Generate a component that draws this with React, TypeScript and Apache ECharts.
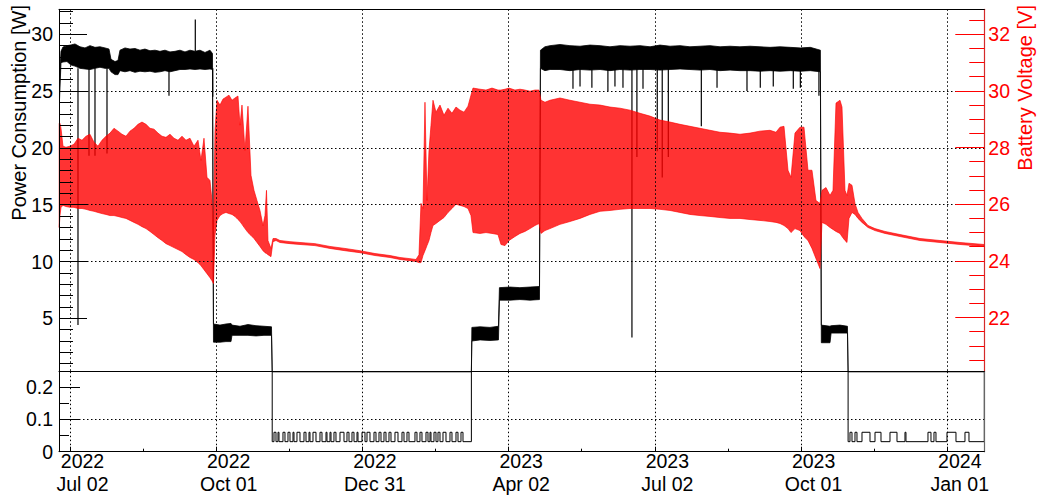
import React, { useEffect, useRef } from 'react';
import * as echarts from 'echarts';

const FONT = 'Liberation Sans, Arial, Helvetica, sans-serif';

// ---- time axis: values are days since 2022-07-02 ----
const xMin = -6.86;
const xMax = 570.6;
const dateTicks = [0, 91.25, 182.5, 273.75, 365, 456.25, 547.5];
const dateLabels = ['2022\nJul 02', '2022\nOct 01', '2022\nDec 31', '2023\nApr 02', '2023\nJul 02', '2023\nOct 01', '2024\nJan 01'];
const dateMinorTicks = [45.625, 136.875, 228.125, 319.375, 410.625, 501.875];

// ---- axes ----
const powerTopRange = [0.3, 32.2];
const powerTopMajor = [5, 10, 15, 20, 25, 30];
const powerTopMinor = [1, 2, 3, 4, 6, 7, 8, 9, 11, 12, 13, 14, 16, 17, 18, 19, 21, 22, 23, 24, 26, 27, 28, 29, 31, 32];
const powerLowRange = [0, 0.247];
const powerLowMajor = [0, 0.1, 0.2];
const powerLowMinor = [0.05, 0.15];
const voltRange = [20.09, 32.88];
const voltMajor = [22, 24, 26, 28, 30, 32];
const voltMinor = [20.5, 21, 21.5, 22.5, 23, 23.5, 24.5, 25, 25.5, 26.5, 27, 27.5, 28.5, 29, 29.5, 30.5, 31, 31.5, 32.5];

// ---- power consumption (upper range) envelope [W] ----
const powerDays = [-6.55, -5.62, -4.37, -1.87, 0.62, 3.12, 6.24, 9.36, 12.48, 15.6, 18.72, 21.84, 24.34, 25.59, 28.08, 29.96, 31.2, 34.32, 37.44, 40.56, 43.68, 46.8, 49.93, 53.05, 56.17, 59.29, 62.41, 65.53, 68.65, 71.77, 74.89, 78.01, 81.13, 84.25, 87.37, 88.93, 89.55, 93.61, 97.35, 100.48, 101.1, 106.09, 111.08, 116.08, 121.07, 125.75, 126.2, 250.5, 250.8, 255.9, 262.1, 267.4, 268.0, 274.6, 280.8, 287.1, 293.0, 293.6, 296.4, 299.6, 305.8, 312.0, 318.3, 324.5, 330.8, 337.0, 343.2, 349.5, 355.7, 362.0, 368.2, 374.5, 380.7, 386.9, 393.2, 399.4, 405.7, 411.9, 418.1, 424.4, 430.6, 436.9, 443.1, 449.5, 455.8, 462.0, 468.3, 468.9, 474.3, 475.0, 480.5, 485.2, 485.6, 570.6];
const powerLow = [24.2, 27.5, 27.56, 27.6, 27.3, 27.2, 27.0, 26.95, 26.9, 27.0, 27.1, 27.0, 27.0, 26.7, 26.45, 26.45, 26.8, 26.7, 26.8, 26.65, 26.75, 26.7, 26.75, 26.65, 26.7, 26.8, 26.7, 26.8, 26.9, 26.9, 26.95, 26.9, 26.95, 26.9, 26.95, 26.9, 2.9, 2.9, 2.95, 2.95, 3.5, 3.5, 3.5, 3.45, 3.5, 3.5, -1, -1, 3.0, 3.1, 3.05, 3.1, 6.6, 6.6, 6.65, 6.6, 6.65, 27.0, 26.8, 26.9, 26.9, 26.8, 26.9, 26.85, 26.9, 26.8, 26.9, 26.85, 26.9, 26.9, 26.85, 26.9, 26.95, 26.9, 26.85, 26.9, 26.8, 26.85, 26.8, 26.8, 26.75, 26.8, 26.75, 26.8, 26.75, 26.8, 26.7, 2.85, 2.85, 3.7, 3.7, 3.7, -1, -1];
const powerHigh = [26.0, 28.5, 28.88, 29.0, 29.06, 29.15, 28.9, 28.8, 29.0, 28.85, 28.9, 28.8, 28.7, 27.8, 27.6, 27.7, 28.6, 28.8, 28.7, 28.75, 28.6, 28.7, 28.55, 28.6, 28.5, 28.6, 28.45, 28.5, 28.6, 28.45, 28.6, 28.5, 28.6, 28.4, 28.6, 28.3, 4.5, 4.4, 4.5, 4.55, 4.4, 4.3, 4.45, 4.35, 4.3, 4.25, -1, -1, 4.2, 4.25, 4.2, 4.3, 7.7, 7.75, 7.7, 7.75, 7.8, 28.6, 28.9, 29.0, 29.1, 29.0, 28.95, 29.05, 29.0, 28.9, 29.0, 28.95, 29.0, 28.9, 29.05, 28.95, 29.0, 28.9, 28.95, 29.0, 28.9, 28.95, 28.9, 28.95, 28.9, 28.85, 28.9, 28.85, 28.8, 28.85, 28.6, 4.4, 4.3, 4.35, 4.4, 4.3, -1, -1];

// ---- short power drops / peaks [day, from W, to W] ----
const spikeDays = [4.99, 11.86, 15.6, 23.09, 61.78, 78.2, 89.1, 313.9, 318.3, 325.7, 335.7, 340.1, 345.1, 350.7, 353.8, 357.6, 366.5, 369.6, 373.4, 394.0, 403.8, 422.5, 430.8, 438.9, 451.4, 455.8, 467.4];
const spikeFrom = [27, 27, 27, 27, 27, 28.5, 27, 27, 27, 27, 27, 27, 27, 27, 27, 27, 27, 27, 27, 27, 27, 27, 27, 27, 27, 27, 27];
const spikeTo = [4.4, 19.3, 19.3, 19.5, 24.6, 31.3, 24.5, 25.2, 25.4, 25.3, 25.0, 25.4, 25.3, 3.3, 19.2, 25.2, 19.7, 17.4, 19.2, 21.9, 25.3, 25.0, 25.3, 25.4, 25.2, 25.3, 24.6];

// ---- standby (lower range) ----
const standbyStart = [126.2, 485.6];
const standbyEnd = [250.5, 570.6];
const standbyBase = 0.031;
const standbyPulse = 0.06;
const pulseStart = [127.31, 129.81, 132.92, 136.05, 139.17, 141.66, 146.03, 149.15, 151.65, 156.02, 159.76, 162.26, 164.75, 168.5, 172.87, 175.99, 179.11, 182.23, 185.35, 189.72, 192.84, 195.96, 199.08, 202.82, 207.19, 210.31, 215.3, 218.42, 222.17, 224.67, 227.16, 229.66, 232.78, 237.15, 240.89, 244.01, 486.77, 489.9, 494.27, 502.39, 511.74, 521.1, 535.45, 539.19, 547.31, 558.54];
const pulseEnd = [128.56, 130.43, 134.17, 137.3, 139.79, 143.54, 147.28, 149.78, 153.52, 157.27, 160.39, 162.89, 166.0, 171.0, 174.12, 177.24, 179.73, 184.1, 187.22, 190.97, 194.09, 197.21, 200.33, 204.7, 208.44, 211.56, 216.55, 219.67, 223.42, 225.29, 228.41, 230.91, 234.65, 238.39, 242.14, 245.26, 488.03, 491.14, 499.26, 506.13, 516.11, 521.72, 537.32, 540.44, 552.92, 561.04];

// ---- battery voltage envelope [V] ----
const voltDays = [-6.74, -6.24, -5.62, -4.37, -2.5, 0, 2.5, 4.99, 7.49, 9.99, 12.48, 14.98, 17.47, 19.97, 22.47, 24.96, 27.46, 29.96, 32.45, 34.95, 37.44, 39.94, 42.44, 44.93, 47.43, 49.93, 52.42, 54.92, 57.41, 59.91, 62.41, 64.9, 67.4, 69.9, 72.39, 74.89, 77.38, 79.88, 81.75, 83.63, 85.5, 87.37, 88.62, 89.55, 90.49, 91.74, 93.61, 95.48, 97.35, 99.23, 101.1, 102.97, 104.84, 106.09, 107.34, 109.21, 111.08, 112.96, 114.83, 116.7, 118.57, 120.45, 121.69, 122.63, 123.57, 125.44, 126.69, 128.56, 131.05, 137.3, 143.54, 152.9, 162.26, 171.62, 180.98, 190.34, 199.7, 205.94, 212.18, 215.93, 217.8, 219.05, 220.3, 221.54, 222.79, 224.04, 225.29, 226.54, 228.41, 230.91, 233.4, 235.9, 238.39, 240.89, 243.39, 245.88, 248.38, 250.25, 251.5, 255.87, 259.61, 263.36, 267.1, 268.97, 271.47, 273.97, 277.71, 280.83, 283.95, 287.07, 290.19, 292.69, 293.94, 296.43, 299.55, 305.79, 312.04, 318.28, 324.52, 330.76, 337.0, 343.24, 349.48, 355.72, 361.96, 368.21, 374.45, 380.69, 386.93, 393.17, 399.41, 405.66, 411.89, 418.14, 424.38, 430.62, 436.85, 440.6, 443.1, 445.59, 448.09, 449.96, 452.45, 455.57, 458.07, 460.57, 463.06, 465.56, 468.06, 469.31, 471.81, 474.3, 476.17, 478.05, 480.54, 481.79, 483.66, 484.91, 486.16, 488.03, 489.9, 491.78, 494.27, 498.02, 502.39, 508.63, 517.99, 530.47, 542.94, 555.42, 570.39];
const voltLow = [25.18, 25.6, 25.89, 25.96, 25.92, 25.89, 25.89, 25.85, 25.85, 25.82, 25.78, 25.75, 25.71, 25.67, 25.64, 25.6, 25.6, 25.57, 25.53, 25.5, 25.43, 25.36, 25.29, 25.21, 25.14, 25.04, 24.93, 24.82, 24.72, 24.61, 24.54, 24.47, 24.4, 24.33, 24.22, 24.12, 24.05, 23.94, 23.83, 23.69, 23.55, 23.41, 23.3, 23.2, 24.9, 25.43, 25.6, 25.67, 25.71, 25.67, 25.64, 25.57, 25.46, 25.39, 25.29, 25.14, 25.0, 24.9, 24.79, 24.65, 24.51, 24.36, 24.29, 24.26, 24.22, 24.15, 24.68, 24.72, 24.65, 24.61, 24.58, 24.54, 24.44, 24.36, 24.29, 24.19, 24.12, 24.05, 24.01, 23.98, 23.94, 23.94, 24.19, 24.36, 24.54, 24.72, 25.0, 25.25, 25.32, 25.43, 25.53, 25.71, 25.85, 26.0, 25.96, 25.92, 25.85, 25.6, 25.0, 24.97, 25.0, 24.97, 24.93, 24.58, 24.54, 24.72, 24.86, 24.97, 25.04, 25.14, 25.25, 25.32, 24.97, 25.07, 25.14, 25.29, 25.39, 25.5, 25.64, 25.75, 25.78, 25.82, 25.85, 25.85, 25.85, 25.82, 25.78, 25.71, 25.64, 25.6, 25.57, 25.53, 25.5, 25.5, 25.46, 25.43, 25.39, 25.36, 25.32, 25.25, 25.14, 25.0, 25.14, 25.07, 24.86, 24.72, 24.44, 24.08, 23.73, 25.36, 25.29, 25.18, 25.11, 25.04, 24.97, 24.86, 24.72, 24.65, 25.5, 25.71, 25.64, 25.5, 25.36, 25.18, 25.07, 24.97, 24.86, 24.72, 24.65, 24.58, 24.51];
const voltHigh = [28.86, 28.86, 28.68, 28.05, 28.01, 28.05, 28.12, 28.33, 28.26, 28.4, 28.47, 28.19, 28.05, 28.26, 28.4, 28.51, 28.68, 28.58, 28.47, 28.4, 28.58, 28.68, 28.82, 28.9, 28.82, 28.68, 28.65, 28.51, 28.4, 28.36, 28.47, 28.33, 28.26, 28.4, 28.26, 28.33, 28.05, 28.26, 27.55, 28.33, 26.95, 26.84, 26.13, 25.07, 28.61, 29.67, 29.5, 29.71, 29.78, 29.85, 29.67, 29.75, 29.82, 28.79, 29.5, 27.9, 29.46, 27.02, 26.49, 26.13, 25.78, 25.25, 25.6, 26.49, 24.72, 24.44, 24.79, 24.79, 24.72, 24.68, 24.65, 24.61, 24.51, 24.44, 24.36, 24.26, 24.19, 24.12, 24.08, 24.05, 24.22, 26.03, 25.85, 29.6, 26.13, 27.9, 28.79, 29.67, 29.25, 29.5, 29.14, 29.39, 29.21, 29.43, 29.32, 29.25, 29.46, 29.85, 30.1, 30.06, 30.03, 30.1, 30.03, 30.03, 30.06, 30.1, 30.03, 30.06, 30.03, 29.99, 30.03, 30.03, 29.67, 29.6, 29.67, 29.75, 29.67, 29.6, 29.53, 29.5, 29.43, 29.39, 29.32, 29.21, 29.11, 28.97, 28.9, 28.82, 28.75, 28.68, 28.61, 28.54, 28.51, 28.47, 28.51, 28.58, 28.61, 28.54, 28.72, 28.75, 27.2, 26.95, 28.51, 28.72, 28.72, 27.2, 27.2, 26.13, 26.03, 26.49, 26.59, 26.31, 26.49, 29.57, 29.67, 29.43, 26.49, 26.31, 26.74, 26.67, 26.03, 25.71, 25.5, 25.25, 25.14, 25.04, 24.93, 24.79, 24.72, 24.65, 24.58];

const RED = 'rgba(255,0,0,0.8)';

function bandRenderer(days: number[], low: number[], high: number[], range: number[], color: string) {
  return (params: any, api: any) => {
    if (params.dataIndex !== 0) return null;
    const clamp = (v: number) => Math.max(range[0], Math.min(range[1], v));
    const pts: number[][] = [];
    for (let i = 0; i < days.length; i++) pts.push(api.coord([days[i], clamp(high[i])]));
    for (let i = days.length - 1; i >= 0; i--) pts.push(api.coord([days[i], clamp(low[i])]));
    return {
      type: 'polygon',
      shape: { points: pts },
      style: { fill: color, stroke: color, lineWidth: 0.8 },
    };
  };
}

function buildStandbyLine(): number[][] {
  const out: number[][] = [[xMin, 1]];
  for (let p = 0; p < standbyStart.length; p++) {
    const a = standbyStart[p];
    const b = standbyEnd[p];
    out.push([a, 1], [a, standbyBase]);
    for (let i = 0; i < pulseStart.length; i++) {
      if (pulseStart[i] > a && pulseEnd[i] < b) {
        out.push([pulseStart[i], standbyBase], [pulseStart[i], standbyPulse], [pulseEnd[i], standbyPulse], [pulseEnd[i], standbyBase]);
      }
    }
    out.push([b, standbyBase], [b, 1]);
  }
  out.push([xMax, 1]);
  return out;
}

const dotted = { color: '#000', width: 1, type: [1.5, 2.5] as any };

function dateLabel(v: number) {
  let best = 0;
  for (let i = 1; i < dateTicks.length; i++) if (Math.abs(dateTicks[i] - v) < Math.abs(dateTicks[best] - v)) best = i;
  return dateLabels[best];
}

export default function App() {
  const ref = useRef<HTMLDivElement>(null);
  useEffect(() => {
    if (!ref.current) return;
    const chart = echarts.init(ref.current, undefined, { renderer: 'svg' });
    const line = (color: string, width = 1) => ({ show: true, onZero: false, lineStyle: { color, width } });
    const noLine = { show: false, onZero: false };
    const option: any = {
      animation: false,
      backgroundColor: '#fff',
      textStyle: { fontFamily: FONT },
      grid: [
        { left: 59, right: 55.7, top: 9.3, height: 362.4 },
        { left: 59, right: 55.7, top: 371.7, height: 80 },
      ],
      xAxis: [
        {
          gridIndex: 0, type: 'value', position: 'top', min: xMin, max: xMax, z: 5,
          axisLine: line('#000'),
          axisTick: { show: false, customValues: dateTicks },
          axisLabel: { show: false, customValues: dateTicks },
          splitLine: { show: true, lineStyle: dotted },
        },
        {
          gridIndex: 1, type: 'value', position: 'bottom', min: xMin, max: xMax, z: 5,
          axisLine: line('#000'),
          axisTick: { show: true, inside: true, length: 5, customValues: dateTicks, lineStyle: { color: '#000' } },
          axisLabel: {
            show: true, customValues: dateTicks, formatter: dateLabel, fontSize: 19.5, lineHeight: 23,
            color: '#000', fontFamily: FONT, margin: -2, padding: [0, 0, 0, 25],
          },
          splitLine: { show: true, lineStyle: dotted },
        },
        {
          gridIndex: 1, type: 'value', position: 'top', min: xMin, max: xMax, z: 5,
          axisLine: line('#000'),
          axisTick: { show: false }, axisLabel: { show: false }, splitLine: { show: false },
        },
        {
          gridIndex: 1, type: 'value', position: 'bottom', min: xMin, max: xMax, z: 5,
          axisLine: noLine,
          axisTick: { show: true, inside: true, length: 3, customValues: dateMinorTicks, lineStyle: { color: '#000' } },
          axisLabel: { show: false }, splitLine: { show: false },
        },
      ],
      yAxis: [
        {
          gridIndex: 0, type: 'value', position: 'left', min: powerTopRange[0], max: powerTopRange[1], z: 5,
          axisLine: line('#000'),
          axisTick: { show: true, inside: true, length: 28, customValues: powerTopMajor, lineStyle: { color: '#000' } },
          axisLabel: { customValues: powerTopMajor, fontSize: 19.5, color: '#000', fontFamily: FONT, margin: 6 },
          splitLine: { show: true, lineStyle: dotted, showMinLine: false, showMaxLine: false },
        },
        {
          gridIndex: 0, type: 'value', position: 'left', min: powerTopRange[0], max: powerTopRange[1], z: 5,
          axisLine: noLine,
          axisTick: { show: true, inside: true, length: 14, customValues: powerTopMinor, lineStyle: { color: '#000' } },
          axisLabel: { show: false }, splitLine: { show: false },
        },
        {
          gridIndex: 0, type: 'value', position: 'right', min: voltRange[0], max: voltRange[1], z: 5,
          axisLine: line('#d42a2a', 1.2),
          axisTick: { show: true, inside: true, length: 29, customValues: voltMajor, lineStyle: { color: '#ff0000' } },
          axisLabel: { customValues: voltMajor, fontSize: 19.5, color: '#ff0000', fontFamily: FONT, margin: 4 },
          splitLine: { show: false },
        },
        {
          gridIndex: 0, type: 'value', position: 'right', min: voltRange[0], max: voltRange[1], z: 5,
          axisLine: noLine,
          axisTick: { show: true, inside: true, length: 15, customValues: voltMinor, lineStyle: { color: '#ff0000' } },
          axisLabel: { show: false }, splitLine: { show: false },
        },
        {
          gridIndex: 1, type: 'value', position: 'left', min: powerLowRange[0], max: powerLowRange[1], z: 5,
          axisLine: line('#000'),
          axisTick: { show: true, inside: true, length: 21, customValues: powerLowMajor, lineStyle: { color: '#000' } },
          axisLabel: { customValues: powerLowMajor, fontSize: 19.5, color: '#000', fontFamily: FONT, margin: 6 },
          splitLine: { show: true, lineStyle: dotted, showMinLine: false, showMaxLine: false },
        },
        {
          gridIndex: 1, type: 'value', position: 'left', min: powerLowRange[0], max: powerLowRange[1], z: 5,
          axisLine: noLine,
          axisTick: { show: true, inside: true, length: 10, customValues: powerLowMinor, lineStyle: { color: '#000' } },
          axisLabel: { show: false }, splitLine: { show: false },
        },
        {
          gridIndex: 1, type: 'value', position: 'right', min: powerLowRange[0], max: powerLowRange[1], z: 5,
          axisLine: line('#666', 1.2),
          axisTick: { show: false }, axisLabel: { show: false }, splitLine: { show: false },
        },
      ],
      series: [
        {
          name: 'Power', type: 'custom', xAxisIndex: 0, yAxisIndex: 0, z: 2,
          data: powerDays.map((d, i) => [d, powerLow[i], powerHigh[i]]),
          encode: { x: 0, y: [1, 2] },
          renderItem: bandRenderer(powerDays, powerLow, powerHigh, powerTopRange, '#000'),
        },
        {
          name: 'Power drops', type: 'custom', xAxisIndex: 0, yAxisIndex: 0, z: 2,
          data: spikeDays.map((d, i) => [d, spikeFrom[i], spikeTo[i]]),
          encode: { x: 0, y: [1, 2] },
          renderItem: (params: any, api: any) => {
            const a = api.coord([api.value(0), api.value(1)]);
            const b = api.coord([api.value(0), api.value(2)]);
            return { type: 'line', shape: { x1: a[0], y1: a[1], x2: b[0], y2: b[1] }, style: { stroke: '#000', lineWidth: 1.2 } };
          },
        },
        {
          name: 'Voltage', type: 'custom', xAxisIndex: 0, yAxisIndex: 2, z: 3,
          data: voltDays.map((d, i) => [d, voltLow[i], voltHigh[i]]),
          encode: { x: 0, y: [1, 2] },
          renderItem: bandRenderer(voltDays, voltLow, voltHigh, voltRange, RED),
        },
        {
          name: 'Standby', type: 'line', xAxisIndex: 1, yAxisIndex: 4, z: 2,
          data: buildStandbyLine(), symbol: 'none', clip: true,
          lineStyle: { color: '#000', width: 1 },
        },
      ],
      graphic: [
        {
          type: 'text', x: 19, y: 5, rotation: Math.PI / 2,
          style: { text: 'Power Consumption [W]', fontSize: 20, fontFamily: FONT, fill: '#000', align: 'right', textAlign: 'right', verticalAlign: 'middle', textVerticalAlign: 'middle' },
        },
        {
          type: 'text', x: 1025, y: 5, rotation: Math.PI / 2,
          style: { text: 'Battery Voltage [V]', fontSize: 20, fontFamily: FONT, fill: '#ff0000', align: 'right', textAlign: 'right', verticalAlign: 'middle', textVerticalAlign: 'middle' },
        },
      ],
    };
    chart.setOption(option);
    return () => chart.dispose();
  }, []);
  return <div ref={ref} style={{ position: 'fixed', left: 0, top: 0, width: 1040, height: 501 }} />;
}
